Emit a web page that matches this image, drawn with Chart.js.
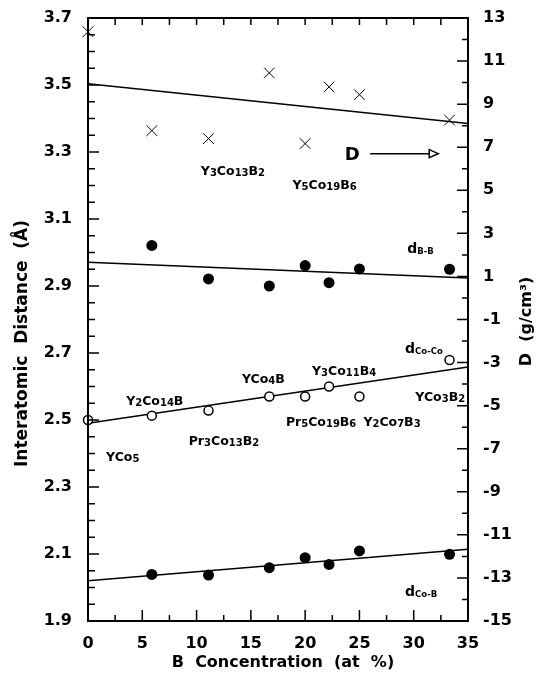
<!DOCTYPE html>
<html>
<head>
<meta charset="utf-8">
<script src="https://cdn.jsdelivr.net/npm/chart.js@4.4.0/dist/chart.umd.min.js"></script>
<style>
  html, body { margin: 0; padding: 0; background: #fff; }
  #wrap { position: relative; width: 539px; height: 680px; }
</style>
</head>
<body>
<div id="wrap"><canvas id="chart"></canvas></div>
<script>
// B concentration (at %) of each compound
const compounds = ['YCo5', 'Y2Co14B', 'Y3Co13B2', 'YCo4B', 'Pr5Co19B6', 'Y3Co11B4', 'Y2Co7B3', 'YCo3B2'];
const boron = [0, 5.88, 11.1, 16.7, 20, 22.2, 25, 33.3];

// density D (g/cm3) - right axis
const density = [12.36, 7.77, 7.40, 10.45, 7.17, 9.80, 9.44, 8.26];

// interatomic distances (A) - left axis
const dBB   = [null, 3.021, 2.921, 2.900, 2.961, 2.910, 2.951, 2.950];
const dCoCo = [2.500, 2.513, 2.528, 2.570, 2.570, 2.600, 2.570, 2.679];
const dCoB  = [null, 2.039, 2.037, 2.059, 2.089, 2.069, 2.109, 2.099];

// straight-line fits (values at 0 and 35 at%)
const fitX     = [0, 35];
const fitD     = [9.95, 8.10];
const fitBB    = [2.971, 2.924];
const fitCoCo  = [2.490, 2.658];
const fitCoB   = [2.020, 2.114];

// tick labels
const xTicks  = [0, 5, 10, 15, 20, 25, 30, 35];
const yTicks  = [1.9, 2.1, 2.3, 2.5, 2.7, 2.9, 3.1, 3.3, 3.5, 3.7];
const y2Ticks = [-15, -13, -11, -9, -7, -5, -3, -1, 1, 3, 5, 7, 9, 11, 13];

// text annotations placed in data units (x in at%, y on the left axis)
const notes = [
    { text: 'Y3Co13B2',  x: 13.35, y: 3.244 },
    { text: 'Y5Co19B6',  x: 21.79, y: 3.202 },
    { text: 'YCo5',      x: 3.2,   y: 2.392 },
    { text: 'Y2Co14B',   x: 6.15,  y: 2.559 },
    { text: 'Pr3Co13B2', x: 12.52, y: 2.440 },
    { text: 'YCo4B',     x: 16.15, y: 2.625 },
    { text: 'Y3Co11B4',  x: 23.59, y: 2.647 },
    { text: 'Pr5Co19B6', x: 21.47, y: 2.495 },
    { text: 'Y2Co7B3',   x: 28.0,  y: 2.495 },
    { text: 'YCo3B2',    x: 32.44, y: 2.570 }
];
const distLabels = [
    { main: 'd', sub: 'B-B',   x: 29.4, y: 3.014 },
    { main: 'd', sub: 'Co-Co', x: 29.2, y: 2.715 },
    { main: 'd', sub: 'Co-B',  x: 29.2, y: 1.989 }
];
const arrowNote = { text: 'D', x: 24.33, from: 25.99, to: 32.26, y: 3.295 };

const FONT = '"DejaVu Sans", "Liberation Sans", sans-serif';

const pts = (xs, ys) => xs.map((x, i) => ({ x: x, y: ys[i] })).filter(p => p.y !== null);

// formula text with digits drawn small (subscripts)
function drawFormula(ctx, text, cx, cy, size) {
    const runs = text.match(/\d+|\D+/g);
    const big = 'bold ' + size + 'px ' + FONT;
    const small = 'bold ' + Math.round(size * 0.76) + 'px ' + FONT;
    let w = 0;
    runs.forEach(r => { ctx.font = /\d/.test(r) ? small : big; w += ctx.measureText(r).width; });
    let x = cx - w / 2;
    const base = cy + size * 0.36;
    runs.forEach(r => {
        const isNum = /\d/.test(r);
        ctx.font = isNum ? small : big;
        ctx.fillText(r, x, base + (isNum ? 1 : 0));
        x += ctx.measureText(r).width;
    });
}

const decorations = {
    id: 'decorations',
    afterDraw(chart) {
        const ctx = chart.ctx;
        const { left, right, top, bottom } = chart.chartArea;
        const sx = chart.scales.x, sy = chart.scales.y, sy2 = chart.scales.y2;
        ctx.save();
        ctx.strokeStyle = '#000';
        ctx.fillStyle = '#000';

        // frame
        ctx.lineWidth = 2;
        ctx.strokeRect(left, top, right - left, bottom - top);

        // inward tick marks
        ctx.lineWidth = 1.5;
        ctx.beginPath();
        for (let i = 0; i <= 14; i++) {
            const px = sx.getPixelForValue(i * 2.5);
            const len = i % 2 === 0 ? 11 : 6;
            ctx.moveTo(px, bottom); ctx.lineTo(px, bottom - len);
            ctx.moveTo(px, top); ctx.lineTo(px, top + 7);
        }
        for (let i = 0; i <= 36; i++) {
            const py = sy.getPixelForValue(1.9 + i * 0.05);
            ctx.moveTo(left, py); ctx.lineTo(left + (i % 4 === 0 ? 11 : 7), py);
        }
        for (let i = 0; i <= 28; i++) {
            const py = sy2.getPixelForValue(-15 + i);
            ctx.moveTo(right, py); ctx.lineTo(right - (i % 2 === 0 ? 11 : 6), py);
        }
        ctx.stroke();

        // compound names
        ctx.textAlign = 'left';
        ctx.textBaseline = 'alphabetic';
        notes.forEach(n => drawFormula(ctx, n.text, sx.getPixelForValue(n.x), sy.getPixelForValue(n.y), 12.5));

        // d labels
        distLabels.forEach(d => {
            const px = sx.getPixelForValue(d.x), py = sy.getPixelForValue(d.y);
            ctx.font = 'bold 14px ' + FONT;
            ctx.fillText(d.main, px, py + 5);
            const w = ctx.measureText(d.main).width;
            ctx.font = 'bold 8.5px ' + FONT;
            ctx.fillText(d.sub, px + w, py + 6);
        });

        // "D" with arrow to the right axis
        const ay = sy.getPixelForValue(arrowNote.y);
        ctx.font = 'bold 18px ' + FONT;
        ctx.textAlign = 'center';
        ctx.fillText(arrowNote.text, sx.getPixelForValue(arrowNote.x), ay + 6.5);
        const x0 = sx.getPixelForValue(arrowNote.from), x1 = sx.getPixelForValue(arrowNote.to);
        ctx.lineWidth = 1.5;
        ctx.beginPath();
        ctx.moveTo(x0, ay); ctx.lineTo(x1 - 9, ay);
        ctx.stroke();
        ctx.beginPath();
        ctx.moveTo(x1 - 9, ay - 4); ctx.lineTo(x1, ay); ctx.lineTo(x1 - 9, ay + 4); ctx.closePath();
        ctx.fillStyle = '#fff'; ctx.fill();
        ctx.stroke();
        ctx.fillStyle = '#000';

        // axis titles
        ctx.textAlign = 'center';
        ctx.textBaseline = 'middle';
        ctx.font = 'bold 16px ' + FONT;
        ctx.fillText('B  Concentration  (at  %)', (left + right) / 2 + 5, bottom + 42);

        ctx.save();
        ctx.translate(22.5, (top + bottom) / 2 + 24);
        ctx.rotate(-Math.PI / 2);
        ctx.font = 'bold 17px ' + FONT;
        ctx.fillText('Interatomic  Distance  (\u00C5)', 0, 0);
        ctx.restore();

        ctx.save();
        ctx.translate(right + 59, (top + bottom) / 2 + 2);
        ctx.rotate(-Math.PI / 2);
        ctx.font = 'bold 16px ' + FONT;
        ctx.fillText('D  (g/cm\u00B3)', 0, 0);
        ctx.restore();

        ctx.restore();
    }
};

const tickFont = { family: FONT, weight: 'bold', size: 16 };

new Chart(document.getElementById('chart'), {
    type: 'scatter',
    data: {
        datasets: [
            { label: 'D', data: pts(boron, density), yAxisID: 'y2', pointStyle: 'crossRot',
              radius: 7.5, borderColor: '#000', borderWidth: 1, clip: false },
            { label: 'D fit', type: 'line', data: pts(fitX, fitD), yAxisID: 'y2',
              borderColor: '#000', borderWidth: 1.5, pointRadius: 0, clip: false },
            { label: 'dB-B', data: pts(boron, dBB), yAxisID: 'y', pointStyle: 'circle',
              radius: 5.5, backgroundColor: '#000', borderColor: '#000', borderWidth: 0, clip: false },
            { label: 'dB-B fit', type: 'line', data: pts(fitX, fitBB), yAxisID: 'y',
              borderColor: '#000', borderWidth: 1.5, pointRadius: 0, clip: false },
            { label: 'dCo-Co', data: pts(boron, dCoCo), yAxisID: 'y', pointStyle: 'circle',
              radius: 4.5, backgroundColor: '#fff', borderColor: '#000', borderWidth: 1.5, clip: false },
            { label: 'dCo-Co fit', type: 'line', data: pts(fitX, fitCoCo), yAxisID: 'y',
              borderColor: '#000', borderWidth: 1.5, pointRadius: 0, clip: false, order: 1 },
            { label: 'dCo-B', data: pts(boron, dCoB), yAxisID: 'y', pointStyle: 'circle',
              radius: 5.5, backgroundColor: '#000', borderColor: '#000', borderWidth: 0, clip: false },
            { label: 'dCo-B fit', type: 'line', data: pts(fitX, fitCoB), yAxisID: 'y',
              borderColor: '#000', borderWidth: 1.5, pointRadius: 0, clip: false }
        ]
    },
    options: {
        responsive: true,
        maintainAspectRatio: false,
        animation: false,
        events: [],
        layout: { padding: { top: 18, left: 0, right: 0, bottom: 0 } },
        plugins: { legend: { display: false }, tooltip: { enabled: false } },
        scales: {
            x: {
                type: 'linear', min: 0, max: 35,
                grid: { display: false, drawTicks: false }, border: { display: false },
                afterBuildTicks: s => { s.ticks = xTicks.map(v => ({ value: v })); },
                ticks: { font: tickFont, color: '#000', padding: 13, maxRotation: 0,
                         callback: v => String(v) },
                afterFit: s => { s.height = 59; s.paddingLeft = 0; s.paddingRight = 0; }
            },
            y: {
                position: 'left', min: 1.9, max: 3.7,
                grid: { display: false, drawTicks: false }, border: { display: false },
                afterBuildTicks: s => { s.ticks = yTicks.map(v => ({ value: v })); },
                ticks: { font: tickFont, color: '#000', padding: 16,
                         callback: v => Number(v).toFixed(1) },
                afterFit: s => { s.width = 88; s.paddingTop = 0; s.paddingBottom = 0; }
            },
            y2: {
                position: 'right', min: -15, max: 13,
                grid: { display: false, drawTicks: false }, border: { display: false },
                afterBuildTicks: s => { s.ticks = y2Ticks.map(v => ({ value: v })); },
                ticks: { font: tickFont, color: '#000', padding: 15,
                         callback: v => String(v) },
                afterFit: s => { s.width = 71; s.paddingTop = 0; s.paddingBottom = 0; }
            }
        }
    },
    plugins: [decorations]
});
</script>
</body>
</html>
